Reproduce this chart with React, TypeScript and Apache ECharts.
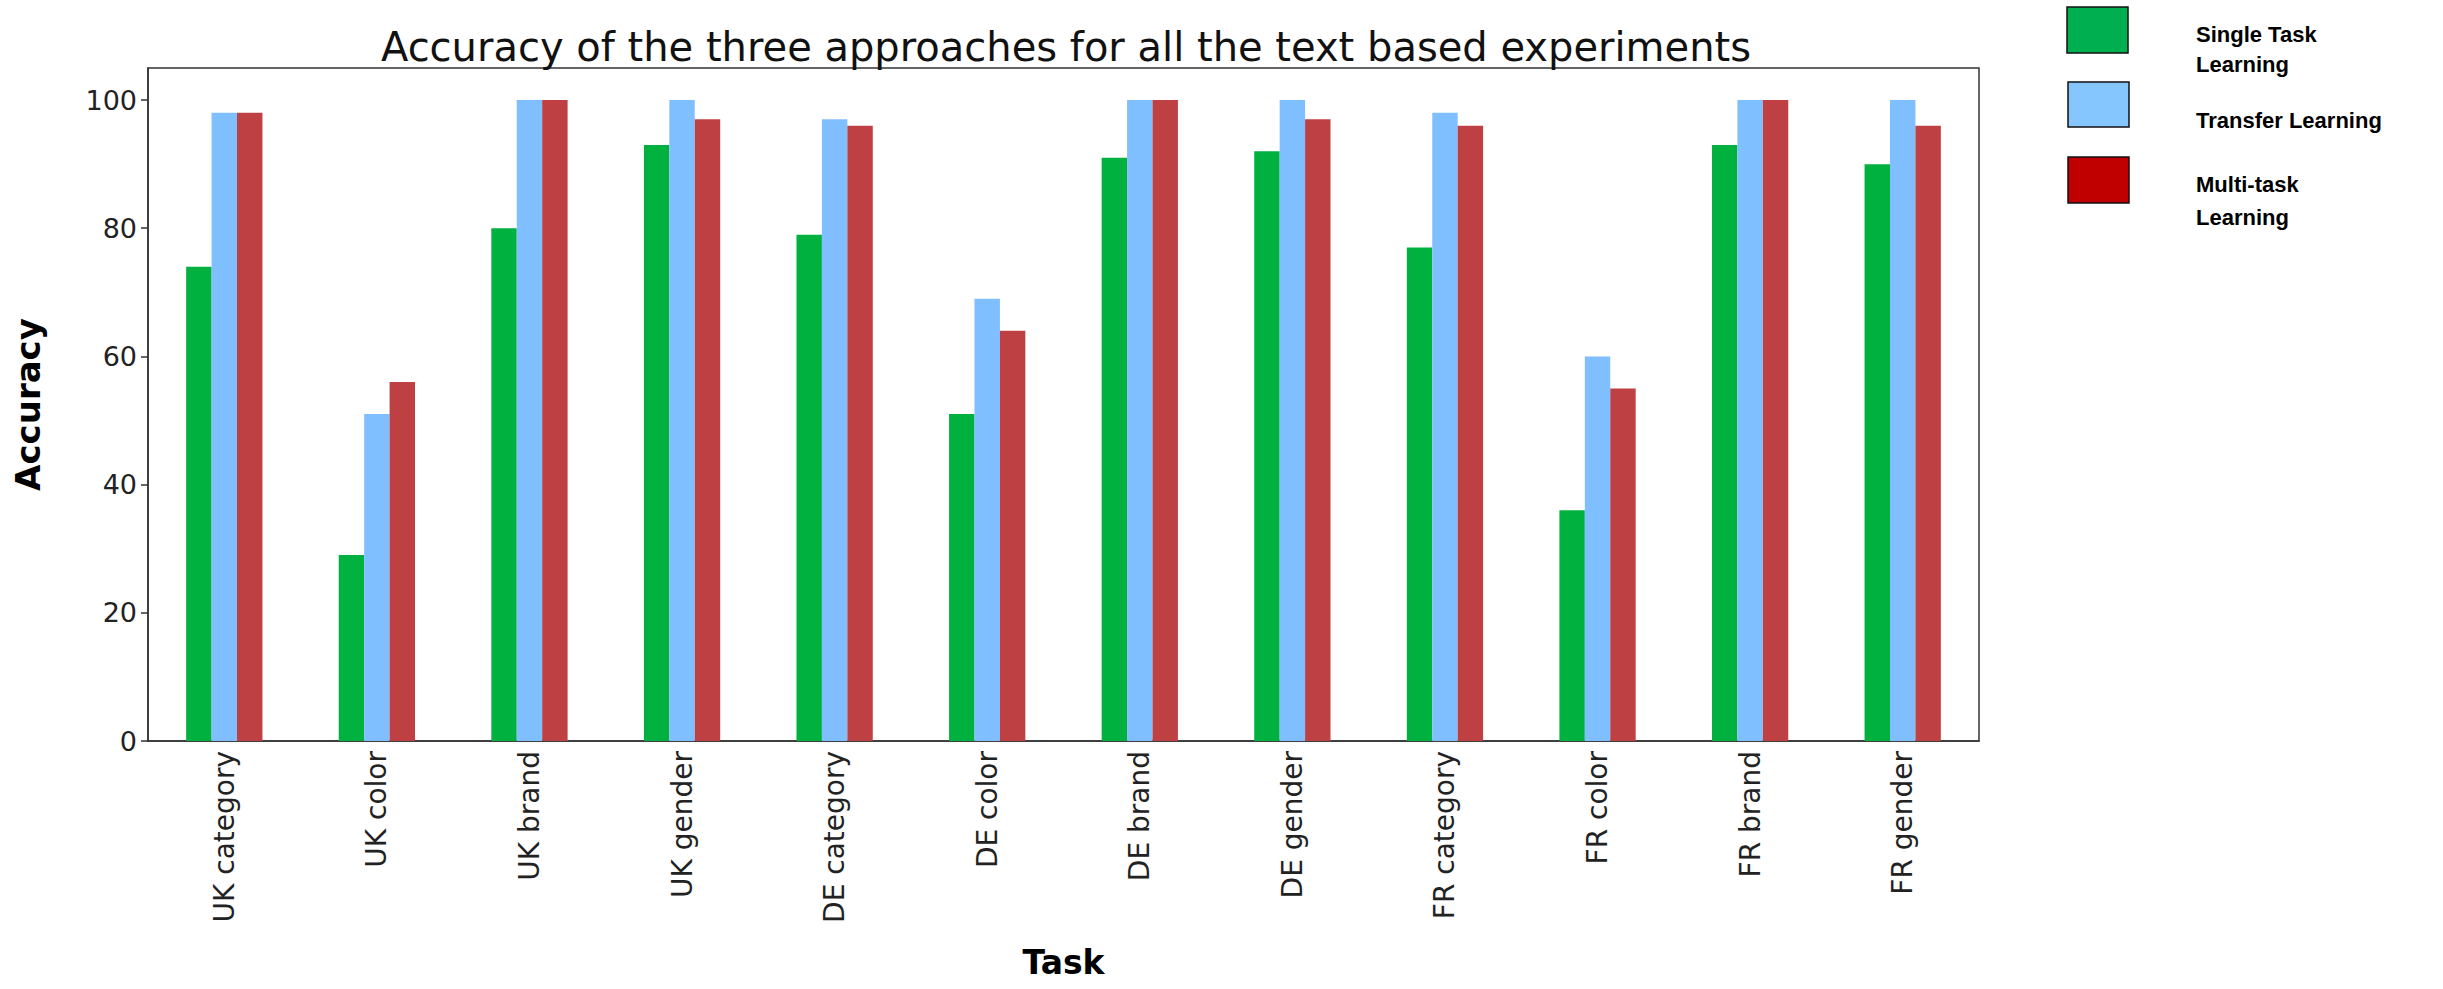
import React, { useEffect, useRef } from "react";
import * as echarts from "echarts";

const categories = [
  "UK category", "UK color", "UK brand", "UK gender",
  "DE category", "DE color", "DE brand", "DE gender",
  "FR category", "FR color", "FR brand", "FR gender",
];
const singleTask = [74, 29, 80, 93, 79, 51, 91, 92, 77, 36, 93, 90];
const transfer = [98, 51, 100, 100, 97, 69, 100, 100, 98, 60, 100, 100];
const multiTask = [98, 56, 100, 97, 96, 64, 100, 97, 96, 55, 100, 96];
const yTicks = [0, 20, 40, 60, 80, 100];
const seriesNames = ["Single Task Learning", "Transfer Learning", "Multi-task Learning"];
const barColors = ["#00B140", "#80BFFF", "#BF4042"];
const legendColors = ["#00B050", "#86C6FF", "#C00000"];

export default function App() {
  const ref = useRef<HTMLDivElement>(null);
  useEffect(() => {
    if (!ref.current) return;
    const chart = echarts.init(ref.current, undefined, { renderer: "svg" });
    const legendFont = "bold 22px 'Liberation Sans', Arial, sans-serif";
    const legendLines = [
      { text: "Single Task", y: 23 },
      { text: "Learning", y: 53 },
      { text: "Transfer Learning", y: 109 },
      { text: "Multi-task", y: 173 },
      { text: "Learning", y: 206 },
    ];
    const boxes = [
      { x: 2067, y: 7, h: 46 },
      { x: 2068, y: 82, h: 45 },
      { x: 2068, y: 157, h: 46 },
    ];
    chart.setOption({
      animation: false,
      backgroundColor: "#ffffff",
      title: {
        text: "Accuracy of the three approaches for all the text based experiments",
        left: 1061,
        top: 22,
        textAlign: "center",
        textStyle: { fontFamily: "DejaVu Sans", fontSize: 40, fontWeight: "normal", color: "#111" },
      },
      grid: {
        left: 148, top: 68, width: 1831, height: 673,
        outerBoundsMode: "none",
        containLabel: false,
        show: true, borderColor: "#333", borderWidth: 1.5, backgroundColor: "transparent",
      },
      xAxis: {
        type: "category",
        data: categories,
        name: "Task",
        nameLocation: "middle",
        nameGap: 208,
        nameTextStyle: { fontFamily: "DejaVu Sans", fontWeight: "bold", fontSize: 33, lineHeight: 26, color: "#000" },
        axisLine: { lineStyle: { color: "#333", width: 1.5 } },
        axisTick: { alignWithLabel: true, length: 7, lineStyle: { color: "#333", width: 1.5 } },
        axisLabel: { fontFamily: "DejaVu Sans", fontSize: 28, color: "#222", rotate: 90, margin: 10, interval: 0 },
        splitLine: { show: false },
      },
      yAxis: {
        type: "value",
        min: 0,
        max: 105,
        interval: 20,
        name: "Accuracy",
        nameLocation: "middle",
        nameGap: 103,
        nameTextStyle: { fontFamily: "DejaVu Sans", fontWeight: "bold", fontSize: 34, color: "#000" },
        axisLine: { show: true, lineStyle: { color: "#333", width: 1.5 } },
        axisTick: { show: true, length: 7, customValues: yTicks, lineStyle: { color: "#333", width: 1.5 } },
        axisLabel: { fontFamily: "DejaVu Sans", fontSize: 27, color: "#222", margin: 11, customValues: yTicks },
        splitLine: { show: false },
      },
      series: [singleTask, transfer, multiTask].map((d, i) => ({
        name: seriesNames[i],
        type: "bar",
        data: d,
        barGap: "0%",
        barCategoryGap: "50%",
        itemStyle: { color: barColors[i] },
      })),
      graphic: [
        ...boxes.map((b, i) => ({
          type: "rect",
          shape: { x: b.x, y: b.y, width: 61, height: b.h },
          style: { fill: legendColors[i], stroke: "#111", lineWidth: 1.5 },
        })),
        ...legendLines.map((l) => ({
          type: "text",
          x: 2196,
          y: l.y,
          style: { text: l.text, font: legendFont, fill: "#000", align: "left", verticalAlign: "top", lineHeight: 23 },
        })),
      ],
    });
    return () => chart.dispose();
  }, []);
  return <div ref={ref} style={{ position: "absolute", left: 0, top: 0, width: 2443, height: 989 }} />;
}
